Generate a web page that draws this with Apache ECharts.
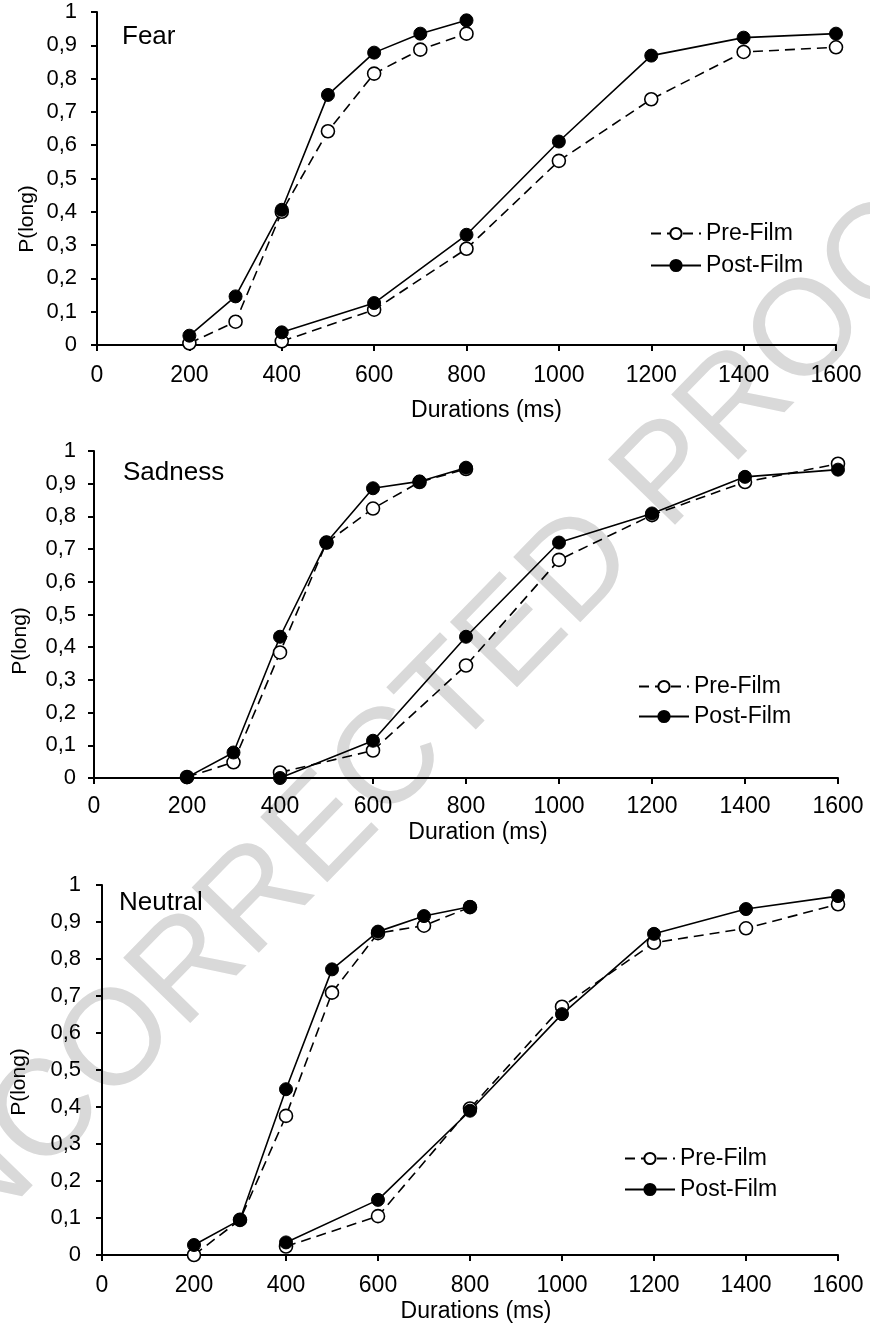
<!DOCTYPE html>
<html>
<head>
<meta charset="utf-8">
<script src="https://cdn.jsdelivr.net/npm/echarts@6/dist/echarts.min.js"></script>
<style>html,body{margin:0;padding:0;background:#fff}#c{width:870px;height:1326px}</style>
</head>
<body>
<div id="c"></div>
<script>
// ---- data ----
const xShort = [200, 300, 400, 500, 600, 700, 800];
const xLong = [400, 600, 800, 1000, 1200, 1400, 1600];
const panelNames = ['Fear', 'Sadness', 'Neutral'];
const xTitles = ['Durations (ms)', 'Duration (ms)', 'Durations (ms)'];
const yTitle = 'P(long)';
const legendNames = ['Pre-Film', 'Post-Film'];
const watermark = 'UNCORRECTED PROOF';

const fearPreShort  = [0.005, 0.070, 0.400, 0.642, 0.815, 0.887, 0.935];
const fearPostShort = [0.028, 0.146, 0.406, 0.751, 0.878, 0.935, 0.975];
const fearPreLong   = [0.011, 0.106, 0.289, 0.553, 0.738, 0.880, 0.894];
const fearPostLong  = [0.038, 0.126, 0.331, 0.611, 0.869, 0.923, 0.935];

const sadPreShort  = [0.003, 0.048, 0.384, 0.720, 0.824, 0.905, 0.945];
const sadPostShort = [0.002, 0.078, 0.432, 0.720, 0.886, 0.907, 0.949];
const sadPreLong   = [0.017, 0.084, 0.344, 0.667, 0.804, 0.905, 0.961];
const sadPostLong  = [0.000, 0.114, 0.432, 0.720, 0.809, 0.921, 0.943];

const neuPreShort  = [0.000, 0.095, 0.376, 0.709, 0.870, 0.890, 0.940];
const neuPostShort = [0.027, 0.095, 0.448, 0.772, 0.874, 0.916, 0.941];
const neuPreLong   = [0.023, 0.105, 0.396, 0.671, 0.844, 0.883, 0.948];
const neuPostLong  = [0.034, 0.149, 0.390, 0.651, 0.868, 0.935, 0.970];

const panels = [
  [fearPreShort, fearPostShort, fearPreLong, fearPostLong],
  [sadPreShort, sadPostShort, sadPreLong, sadPostLong],
  [neuPreShort, neuPostShort, neuPreLong, neuPostLong]
];

// ---- layout ----
const FONT = 'Liberation Sans';
const grids = [
  {left: 97, top: 12, width: 739, height: 333},
  {left: 94, top: 451, width: 744, height: 327},
  {left: 102, top: 885, width: 736, height: 370}
];
const xNameGap = [54, 43, 45];
const xNamePad = [40, 24, 12];
const xLabelMargin = [19, 17, 19];
const yLabelMargin = [20, 18, 21];
const legendPos = [
  {left: 650, top: 222},
  {left: 638, top: 675},
  {left: 624, top: 1147}
];
const legendGap = [9, 7, 8];
const panelLabelPos = [[122, 37], [123, 473], [119, 903]];
const yTitlePos = [[27, 219], [20, 641], [19, 1082]];

function pairs(xs, ys) { return xs.map((x, i) => [x, ys[i]]); }
function yFmt(v) {
  if (Math.abs(v) < 1e-9) return '0';
  if (Math.abs(v - 1) < 1e-9) return '1';
  return v.toFixed(1).replace('.', ',');
}
function xFmt(v) { return String(Math.round(v)); }

const preStyle = {
  lineStyle: {color: '#000', width: 1.6, type: [10, 6]},
  itemStyle: {color: '#fff', borderColor: '#000', borderWidth: 1.6}
};
const postStyle = {
  lineStyle: {color: '#000', width: 1.6, type: 'solid'},
  itemStyle: {color: '#000', borderColor: '#000', borderWidth: 1}
};

const xAxes = [], yAxes = [], series = [], legends = [], graphics = [];
grids.forEach((g, i) => {
  xAxes.push({
    type: 'value', gridIndex: i, min: 0, max: 1600, interval: 200,
    name: xTitles[i], nameLocation: 'middle', nameGap: xNameGap[i],
    nameTextStyle: {fontFamily: FONT, fontSize: 23, color: '#000', padding: [0, 0, 0, xNamePad[i]]},
    axisLine: {show: true, lineStyle: {color: '#000', width: 2}},
    axisTick: {show: true, length: 6, lineStyle: {color: '#000', width: 2}},
    axisLabel: {fontFamily: FONT, fontSize: 23, color: '#000', margin: xLabelMargin[i], formatter: xFmt},
    splitLine: {show: false}
  });
  yAxes.push({
    type: 'value', gridIndex: i, min: 0, max: 1, interval: 0.1,
    axisLine: {show: true, lineStyle: {color: '#000', width: 2}},
    axisTick: {show: true, length: 6, lineStyle: {color: '#000', width: 2}},
    axisLabel: {fontFamily: FONT, fontSize: 22, color: '#000', margin: yLabelMargin[i], formatter: yFmt},
    splitLine: {show: false}
  });
  const [preS, postS, preL, postL] = panels[i];
  const mk = (name, xs, ys, st) => Object.assign({
    type: 'line', name: name, xAxisIndex: i, yAxisIndex: i,
    data: pairs(xs, ys), symbol: 'circle', symbolSize: 13, showSymbol: true,
    animation: false, silent: true
  }, JSON.parse(JSON.stringify(st)));
  series.push(mk(legendNames[0], xShort, preS, preStyle));
  series.push(mk(legendNames[1], xShort, postS, postStyle));
  series.push(mk(legendNames[0], xLong, preL, preStyle));
  series.push(mk(legendNames[1], xLong, postL, postStyle));
  legends.push({
    data: legendNames.slice(), orient: 'vertical',
    left: legendPos[i].left, top: legendPos[i].top,
    itemWidth: 50, itemHeight: 14, itemGap: legendGap[i],
    textStyle: {fontFamily: FONT, fontSize: 23, color: '#000', lineHeight: 16},
    selectedMode: false, padding: 0
  });
  graphics.push({
    type: 'text', x: panelLabelPos[i][0], y: panelLabelPos[i][1], z: 10,
    style: {text: panelNames[i], fontFamily: FONT, fontSize: 26, fill: '#000', align: 'left', verticalAlign: 'middle'}
  });
  graphics.push({
    type: 'text', x: yTitlePos[i][0], y: yTitlePos[i][1], rotation: Math.PI / 2, z: 10,
    style: {text: yTitle, fontFamily: FONT, fontSize: 21, fill: '#000', align: 'center', verticalAlign: 'middle'}
  });
});

graphics.unshift({
  type: 'text', x: 427, y: 726, rotation: 45.8 * Math.PI / 180, z: -10,
  style: {text: watermark, fontFamily: 'Liberation Sans', fontSize: 136, fill: '#d9d9d9',
    align: 'center', verticalAlign: 'middle'}
});

const chart = echarts.init(document.getElementById('c'), null, {renderer: 'canvas'});
chart.setOption({
  backgroundColor: '#fff',
  animation: false,
  grid: grids,
  xAxis: xAxes,
  yAxis: yAxes,
  legend: legends,
  graphic: graphics,
  series: series
});
</script>
</body>
</html>
